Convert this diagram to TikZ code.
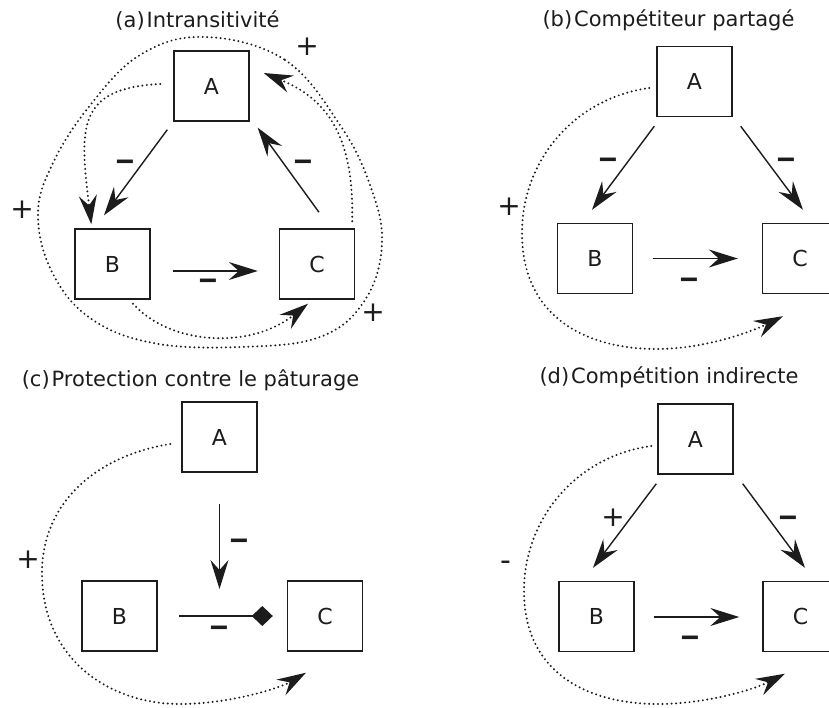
\documentclass[tikz,border=0pt]{standalone}
\usepackage{graphicx}
\usepackage{fontspec}
\setmainfont{DejaVu Sans}
\usetikzlibrary{arrows.meta,calc}
\definecolor{ink}{RGB}{28,28,28}
\newcommand{\barminus}{\scalebox{1.45}[1]{–}}
\begin{document}
\begin{tikzpicture}[x=1pt,y=-1pt,
  box/.style={draw=ink, line width=1.4pt, minimum width=75pt, minimum height=70pt, inner sep=0pt, font=\fontsize{22}{26}\selectfont, text=ink},
  eff/.style={draw=ink, line width=1.4pt, -{Stealth[length=29pt,width=18pt,inset=10pt]}},
  ind/.style={draw=ink, line width=2.2pt, line cap=round, dash pattern=on 0pt off 4.5pt, -{Stealth[length=29pt,width=18pt,inset=10pt]}},
  ring/.style={draw=ink, line width=2.2pt, line cap=round, dash pattern=on 0pt off 4.5pt},
  ttl/.style={font=\fontsize{21}{25}\selectfont, text=ink, inner sep=0pt},
  minussign/.style={font=\bfseries\fontsize{28}{30}\selectfont, text=ink, inner sep=0pt},
  plussign/.style={font=\fontsize{28}{30}\selectfont, text=ink, inner sep=0pt},
]
\useasboundingbox (0,0) rectangle (829,708);
\clip (0,0) rectangle (829,708);

% ---------- (a)
\node[ttl] (ta) at (197.5,20) {(a)\hspace{2pt}Intransitivité};
\node[box] (aA) at (211.5,86) {A};
\node[box] (aB) at (112.5,264) {B};
\node[box] (aC) at (317,264) {C};
\draw[eff] ($(aA.south west)+(-6,8)$) -- ($(aB.north)+(-8.5,-13)$);
\draw[eff] ($(aC.north)+(2,-16)$) -- ($(aA.south east)+(8,6)$);
\draw[eff] ($(aB.east)+(22,7)$) -- ($(aC.west)+(-21,7)$);
\node[minussign] (la1) at (125,165) {\barminus};
\node[minussign] (la2) at (303,165) {\barminus};
\node[minussign] (la3) at (208,284) {\barminus};
\node[plussign] (pa1) at (22,210) {+};
\node[plussign] (pa2) at (307,47) {+};
\node[plussign] (pa3) at (373,313) {+};
\draw[ind] ($(aA.west)+(-13,-2)$) .. controls (75,88) and (80,130) .. ($(aB.north west)+(17,-4)$);
\draw[ind] ($(aC.north east)+(-3,-7)$) .. controls (354,140) and (330,100) .. ($(aA.east)+(14,-13)$);
\draw[ind] ($(aB.south)+(20.5,4)$) .. controls (170,345) and (250,350) .. ($(aC.south)+(-9,4)$);
\draw[ring] plot[smooth cycle, tension=0.65] coordinates {(205,37) (285,60) (340,125) (370,185) (382,243) (365,300) (320,337) (240,347) (153,343) (90,318) (52,272) (38,215) (52,165) (88,108) (140,55)};

% ---------- (b)
\node[ttl] (tb) at (668.5,20) {(b)\hspace{2pt}Compétiteur partagé};
\node[box] (bA) at (694.5,81.5) {A};
\node[box] (bB) at (595,258.5) {B};
\node[box] (bC) at (800,258.5) {C};
\draw[eff] ($(bA.south west)+(-2,9)$) -- ($(bB.north)+(-3,-13)$);
\draw[eff] ($(bA.south east)+(8,9)$) -- ($(bC.north)+(3,-13)$);
\draw[eff] ($(bB.east)+(19.5,0)$) -- ($(bC.west)+(-24,0)$);
\node[minussign] (lb1) at (608,163) {\barminus};
\node[minussign] (lb2) at (786,163) {\barminus};
\node[minussign] (lb3) at (689,283) {\barminus};
\node[plussign] (pb1) at (509,207) {+};
\draw[ind] ($(bA.west)+(-7,6.5)$) .. controls (575,98) and (522,160) .. (522,233) .. controls (522,320) and (590,350) .. (660,349) .. controls (710,348) and (755,330) .. ($(bC.south)+(-17,22)$);

% ---------- (c)
\node[ttl] (tc) at (190.5,380) {(c)\hspace{2pt}Protection contre le pâturage};
\node[box] (cA) at (219.5,437) {A};
\node[box] (cB) at (119.5,616) {B};
\node[box] (cC) at (325,616) {C};
\coordinate (cX) at (cA.south |- cB.east);
\draw[eff] ($(cA.south)+(0,31)$) -- ($(cX)+(0,-27)$);
\draw[draw=ink, line width=1.4pt, -{Diamond[length=21pt,width=20pt]}] ($(cB.east)+(21,0)$) -- ($(cC.west)+(-14,0)$);
\node[minussign] (lc1) at (239,544) {\barminus};
\node[minussign] (lc2) at (219,631) {\barminus};
\node[plussign] (pc1) at (28,560) {+};
\draw[ind] ($(cA.west)+(-11,7)$) .. controls (100,455) and (42,500) .. (42,573) .. controls (42,660) and (110,704) .. (180,704) .. controls (230,704) and (280,688) .. ($(cC.south)+(-19,21)$);

% ---------- (d)
\node[ttl] (td) at (669,377) {(d)\hspace{2pt}Compétition indirecte};
\node[box] (dA) at (695.5,439) {A};
\node[box] (dB) at (596.5,616.5) {B};
\node[box] (dC) at (800.5,616.5) {C};
\draw[eff] ($(dA.south west)+(-1,9)$) -- ($(dB.north)+(-3.5,-13)$);
\draw[eff] ($(dA.south east)+(9,9)$) -- ($(dC.north)+(4.5,-13)$);
\draw[eff] ($(dB.east)+(19,0.5)$) -- ($(dC.west)+(-23,0.5)$);
\node[plussign] (pd1) at (613,518) {+};
\node[minussign] (ld1) at (788,521) {\barminus};
\node[minussign] (ld2) at (690,641) {\barminus};
\node[plussign, font=\fontsize{30}{30}\selectfont] (ld3) at (506,565.5) {-};
\draw[ind] ($(dA.west)+(-6,7)$) .. controls (577,456) and (524,518) .. (524,591) .. controls (524,676) and (592,705) .. (662,704) .. controls (712,703) and (757,688) .. ($(dC.south)+(-15.5,21.5)$);
\end{tikzpicture}
\end{document}
